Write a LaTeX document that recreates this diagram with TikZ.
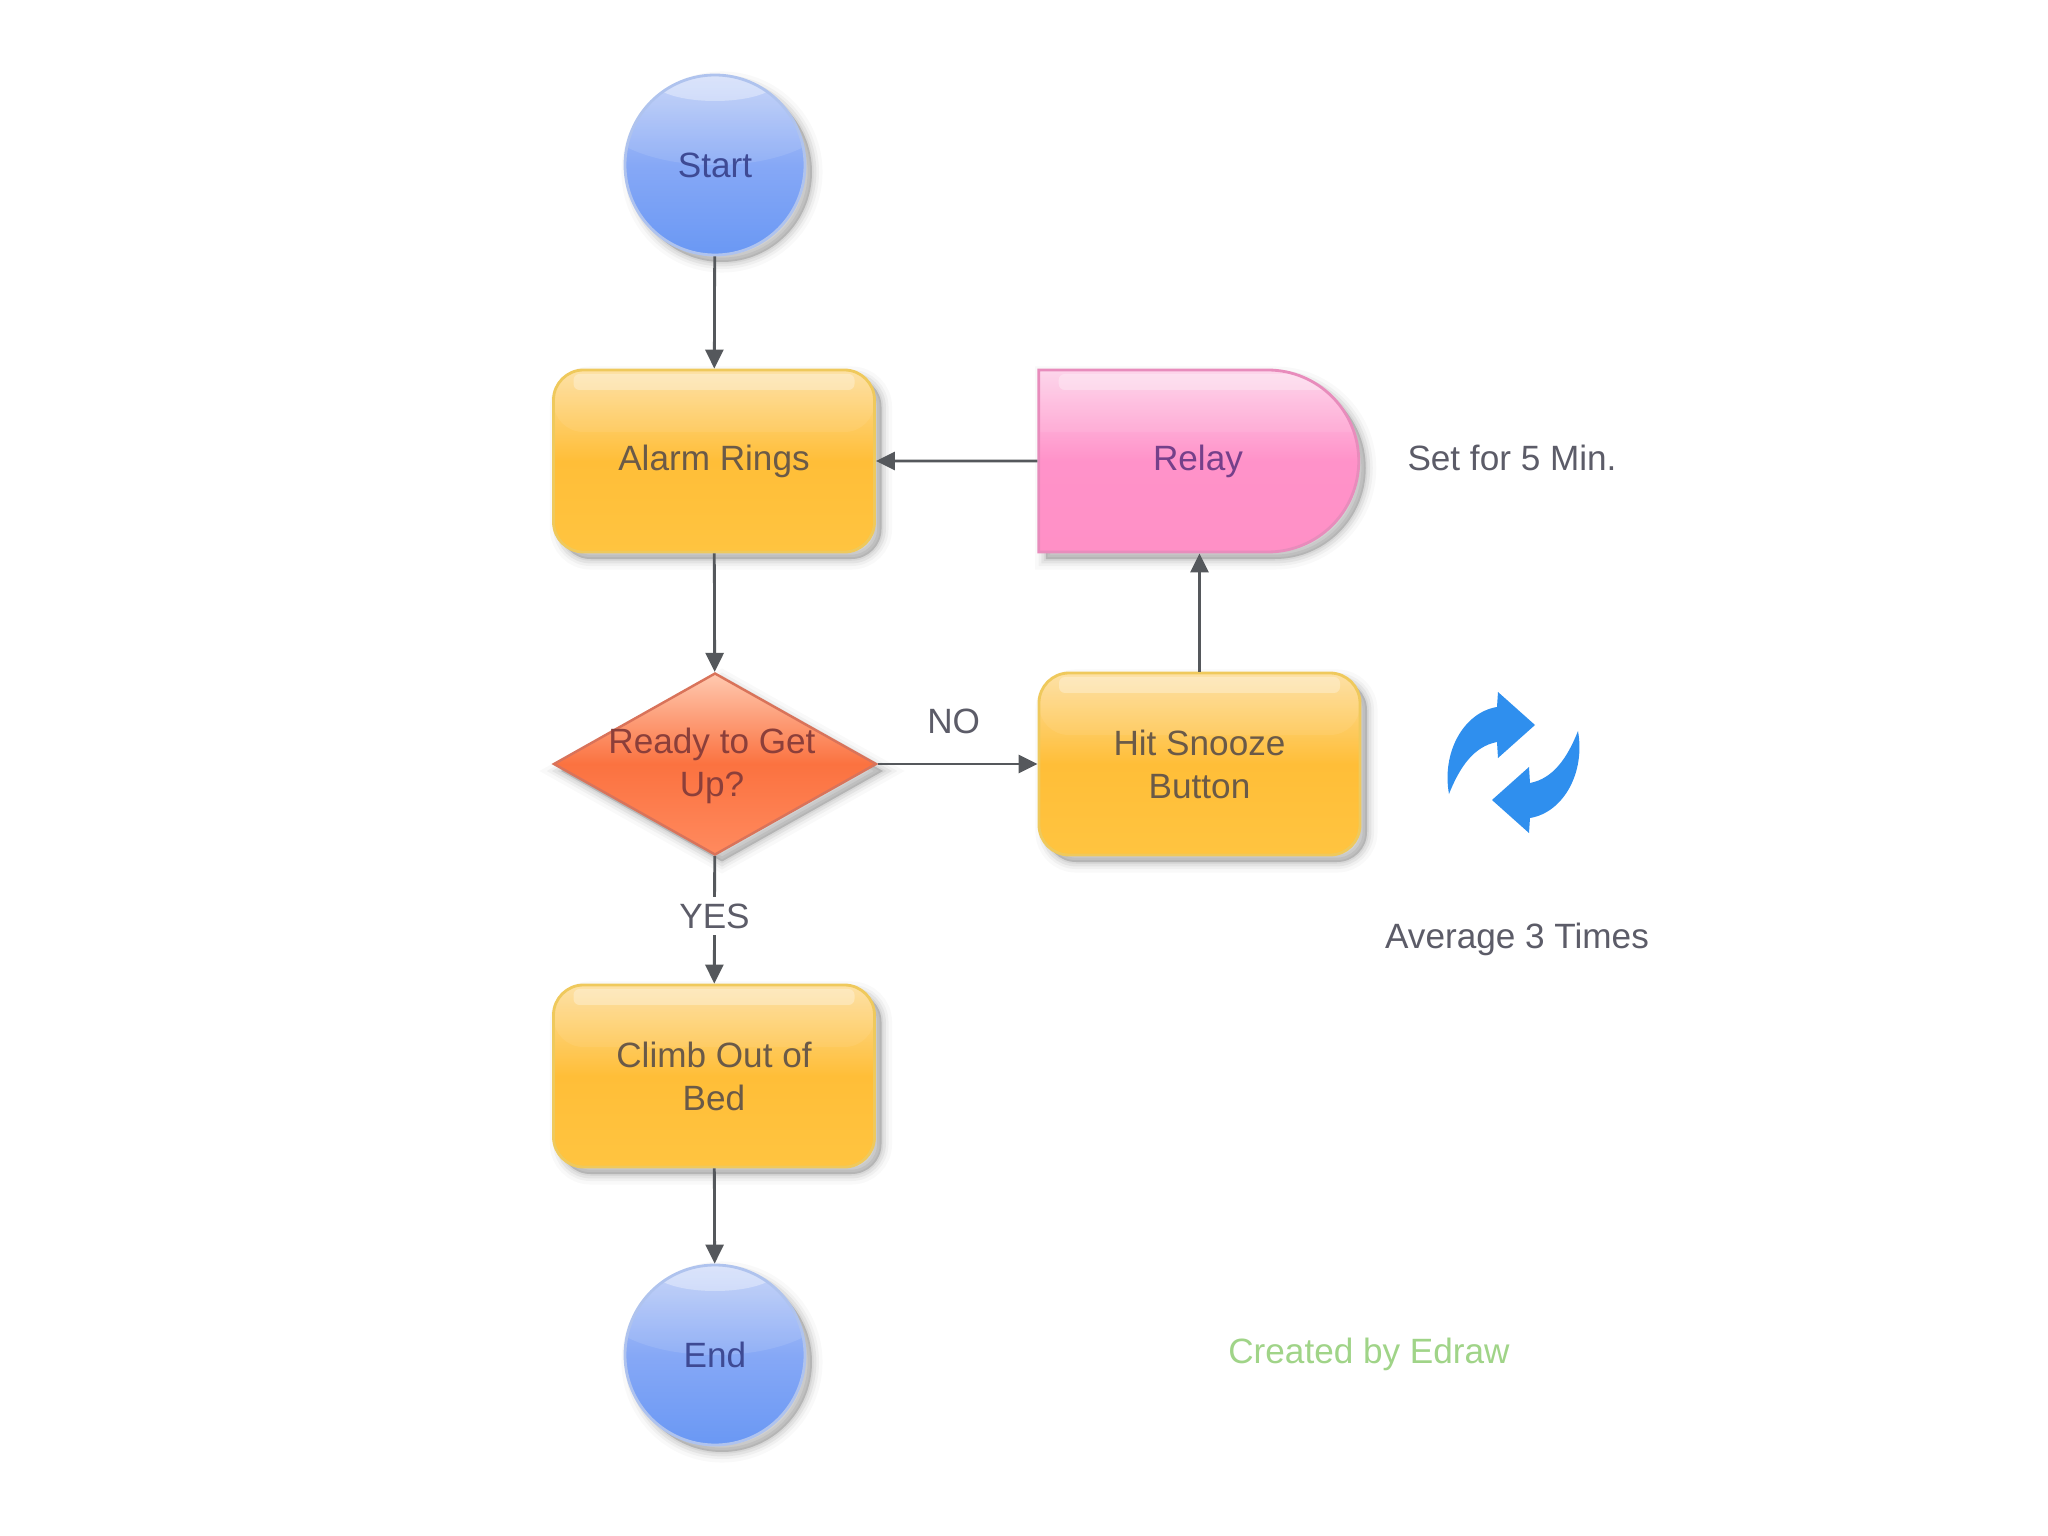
\documentclass[tikz,border=0pt]{standalone}
\usepackage{fontspec}
\setmainfont{Liberation Sans}
\usepackage{tikz}
\usetikzlibrary{arrows.meta,positioning,shapes.geometric,shapes.misc}
\definecolor{linegray}{HTML}{55585C}
\definecolor{labelgray}{HTML}{5C5C68}
\definecolor{iconblue}{HTML}{2F8FEE}
\definecolor{edrawgreen}{HTML}{A0D488}
\definecolor{boxtop}{HTML}{FDDF9F}
\definecolor{boxmid}{HTML}{FFBE38}
\definecolor{boxlow}{HTML}{FFC440}
\definecolor{boxedge}{HTML}{EFC95C}
\definecolor{boxtext}{HTML}{6A5A48}
\definecolor{relaytop}{HTML}{FDD3EA}
\definecolor{relaymid}{HTML}{FF92C9}
\definecolor{relaylow}{HTML}{FF90C6}
\definecolor{relayedge}{HTML}{E88CBC}
\definecolor{relaytext}{HTML}{75408A}
\definecolor{termtop}{HTML}{C2D1F8}
\definecolor{termmid}{HTML}{86A8F6}
\definecolor{termlow}{HTML}{6A98F4}
\definecolor{termedge}{HTML}{AFC3EE}
\definecolor{termtext}{HTML}{3E4A94}
\definecolor{readytop}{HTML}{FFC9B0}
\definecolor{readymid}{HTML}{FB7240}
\definecolor{readylow}{HTML}{FF8A5E}
\definecolor{readyedge}{HTML}{D9735A}
\definecolor{readytext}{HTML}{8C3F3A}
\tikzset{
  softshadow/.style={
    preaction={fill=black,draw=black,opacity=.025,line width=6pt,transform canvas={shift={(.07,-.07)}}},
    preaction={fill=black,draw=black,opacity=.035,line width=4pt,transform canvas={shift={(.07,-.07)}}},
    preaction={fill=black,draw=black,opacity=.05,line width=2.5pt,transform canvas={shift={(.07,-.07)}}},
    preaction={fill=black,draw=black,opacity=.05,line width=1pt,transform canvas={shift={(.07,-.07)}}}},
  boxgloss/.style={path picture={
    \fill[white,fill opacity=.07] (path picture bounding box.north west) rectangle
      ([yshift=-.62cm]path picture bounding box.north east);
    \fill[white,fill opacity=.3,rounded corners=.06cm] ([xshift=.2cm,yshift=-.04cm]path picture bounding box.north west) rectangle
      ([xshift=-.2cm,yshift=-.2cm]path picture bounding box.north east);}},
  stepbox/.style={draw=boxedge,line width=.8pt,rounded corners=.3cm,
    minimum width=3.21cm,minimum height=1.82cm,inner sep=0pt,align=center,softshadow,
    top color=boxtop,bottom color=boxlow,middle color=boxmid,
    boxgloss,text=boxtext,font=\fontsize{10}{12.2}\selectfont},
  relaybox/.style={rounded rectangle,rounded rectangle west arc=none,draw=relayedge,line width=.8pt,
    minimum width=3.2cm,minimum height=1.82cm,inner sep=0pt,softshadow,
    top color=relaytop,bottom color=relaylow,middle color=relaymid,
    boxgloss,text=relaytext,font=\fontsize{10}{12.2}\selectfont},
  termcircle/.style={circle,draw=termedge,line width=.8pt,minimum size=1.8cm,inner sep=0pt,softshadow,
    top color=termtop,bottom color=termlow,middle color=termmid,
    path picture={
      \fill[white,fill opacity=.1] (path picture bounding box.center) ++(0,.55) ellipse (1.2cm and .55cm);
      \fill[white,fill opacity=.35] (path picture bounding box.center) ++(0,.84) ellipse (.62cm and .2cm);},
    text=termtext,font=\fontsize{10}{12.2}\selectfont},
  decidebox/.style={diamond,aspect=1.77,draw=readyedge,line width=.7pt,minimum width=3.23cm,minimum height=1.82cm,
    inner sep=0pt,softshadow,top color=readytop,bottom color=readylow,middle color=readymid},
  decidetext/.style={align=center,text=readytext,font=\fontsize{10}{12.2}\selectfont},
  sidelabel/.style={text=labelgray,font=\fontsize{10}{12.2}\selectfont},
  flow/.style={->,linegray,line width=.8pt},
  >={Triangle[length=.19cm,width=.18cm]}
}
\begin{document}
\begin{tikzpicture}
  \useasboundingbox (0,0) rectangle (20.48,-15.36);
  \fill[white] (0,0) rectangle (20.48,-15.36);
  % the main column
  \node[termcircle] (start) at (7.15,-1.65) {Start};
  \node[stepbox] (alarm) at (7.14,-4.61) {Alarm Rings};
  \node[decidebox] (ready) at (7.15,-7.64) {};
  \node[decidetext] (readytext) at (7.12,-7.66) {Ready to Get\\Up?};
  \node[stepbox] (climb) at (7.14,-10.76) {Climb Out of\\Bed};
  \node[termcircle] (end) at (7.15,-13.55) {End};
  % the snooze loop
  \node[relaybox] (relay) at (11.98,-4.61) {Relay};
  \node[stepbox] (snooze) at (11.995,-7.64) {Hit Snooze\\Button};
  % connectors
  \draw[flow] (start) -- (alarm);
  \draw[flow] (alarm) -- (ready);
  \draw[flow] (ready) -- (climb) node[pos=.47,fill=white,inner sep=2pt,sidelabel] (yes) {YES};
  \draw[flow] (climb) -- (end);
  \draw[flow] (ready) -- (snooze) node[midway,xshift=-.04cm,above=.17cm,sidelabel] (no) {NO};
  \draw[flow] (snooze) -- (snooze |- relay.south);
  \draw[flow] (relay) -- (alarm);
  % side notes
  \node[sidelabel] (fivemin) at (15.12,-4.58) {Set for 5 Min.};
  \node[sidelabel] (average) at (15.17,-9.39) {Average 3 Times};
  \node[text=edrawgreen,font=\fontsize{10}{12.2}\selectfont] (edraw) at (13.69,-13.54) {Created by Edraw};
  % the refresh icon
  \foreach \a in {0,180}{
    \fill[iconblue,shift={(15.135,-7.625)},rotate=\a]
      (-.645,-.315) .. controls (-.72,.10) and (-.50,.50) .. (-.165,.555)
      -- (-.155,.705) -- (.215,.375) -- (-.155,.045) -- (-.165,.205)
      .. controls (-.40,.16) and (-.54,-.05) .. (-.645,-.315) -- cycle;
  }
\end{tikzpicture}
\end{document}
